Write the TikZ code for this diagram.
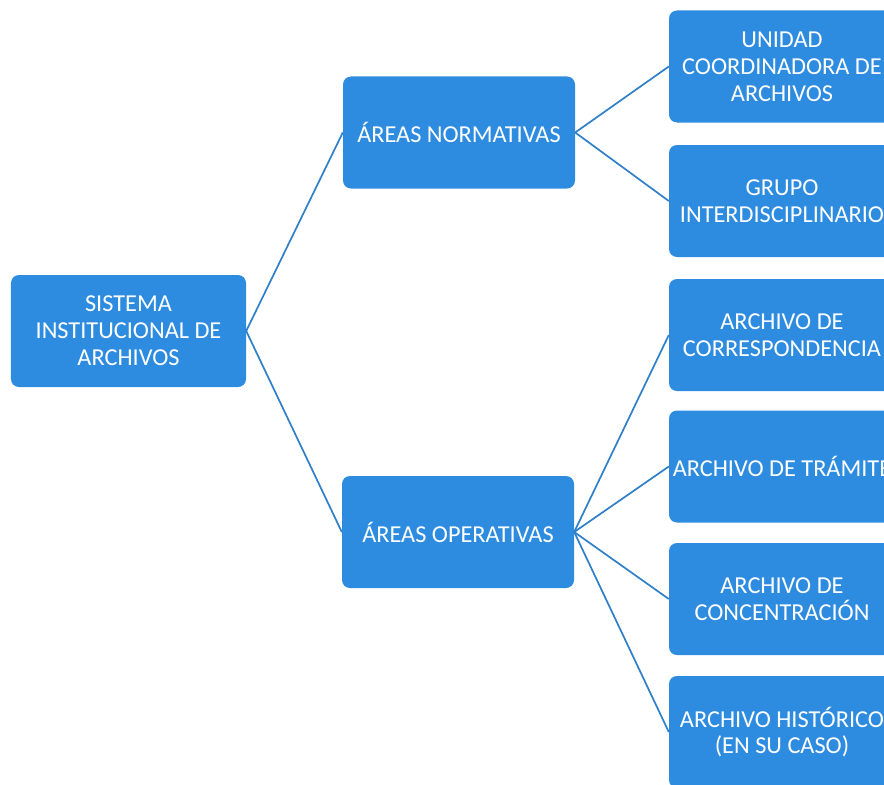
\documentclass[tikz,border=0pt]{standalone}
\usepackage{fontspec}
\setmainfont{Carlito}
\definecolor{boxblue}{HTML}{2E8CE0}
\definecolor{lineblue}{HTML}{2F7FC9}
\begin{document}
\begin{tikzpicture}[x=1bp,y=-1bp,
  box/.style={fill=boxblue, rounded corners=8bp, inner sep=0pt, align=center,
    text=white, font=\fontsize{24.4}{27}\selectfont, minimum height=112bp},
  lbox/.style={box, minimum width=232bp},
  rbox/.style={box, minimum width=226bp},
  conn/.style={draw=lineblue, line width=1.7bp}]
\useasboundingbox (0,0) rectangle (884,785);
\clip (0,0) rectangle (884,785);
\fill[white] (0,0) rectangle (884,785);
\node[lbox, minimum width=235bp] (root) at (128.5,331) {SISTEMA\\INSTITUCIONAL DE\\ARCHIVOS};
\node[lbox] (norm) at (459,132.5) {ÁREAS NORMATIVAS};
\node[lbox] (oper) at (458,532) {ÁREAS OPERATIVAS};
\node[rbox] (unidad) at (782,66.5) {UNIDAD\\COORDINADORA DE\\ARCHIVOS};
\node[rbox] (grupo) at (782,201) {GRUPO\\INTERDISCIPLINARIO};
\node[rbox] (corr) at (782,335) {ARCHIVO DE\\CORRESPONDENCIA};
\node[rbox] (tram) at (782,466.5) {ARCHIVO DE TRÁMITE};
\node[rbox] (conc) at (782,599) {ARCHIVO DE\\CONCENTRACIÓN};
\node[rbox] (hist) at (782,732) {ARCHIVO HISTÓRICO\\(EN SU CASO)};
\draw[conn] (root.east) -- (norm.west);
\draw[conn] (root.east) -- (oper.west);
\draw[conn] (norm.east) -- (unidad.west);
\draw[conn] (norm.east) -- (grupo.west);
\draw[conn] (oper.east) -- (corr.west);
\draw[conn] (oper.east) -- (tram.west);
\draw[conn] (oper.east) -- (conc.west);
\draw[conn] (oper.east) -- (hist.west);
\end{tikzpicture}
\end{document}
